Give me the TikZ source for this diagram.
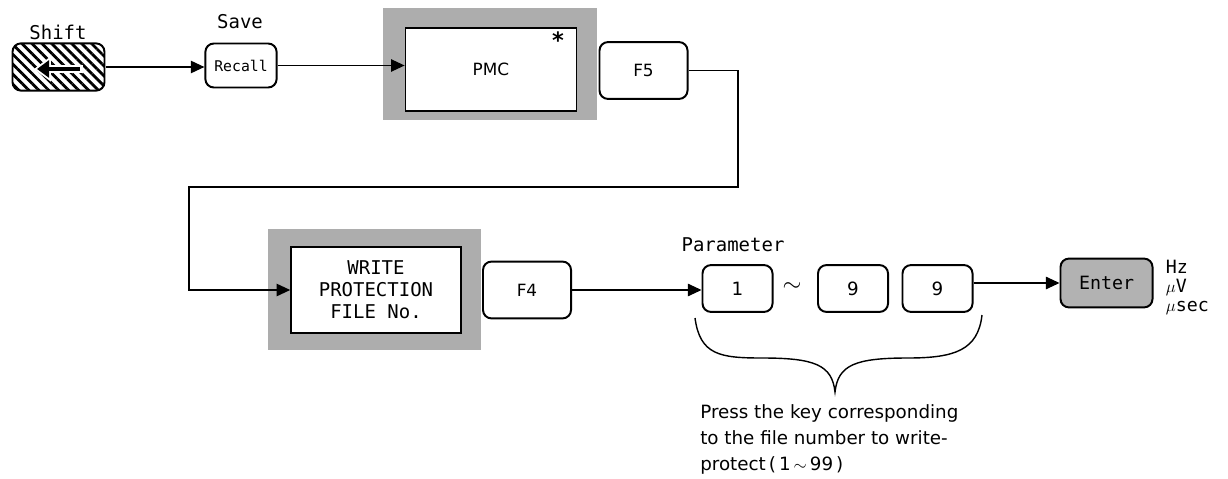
\documentclass[tikz,border=0pt]{standalone}
\usepackage{fontspec}
\setmainfont{DejaVu Sans}
\setmonofont{DejaVu Sans Mono}
\usetikzlibrary{arrows.meta,positioning,calc,patterns.meta}

\begin{document}
\begin{tikzpicture}[x=0.025cm, y=-0.025cm,
  key/.style={draw, line width=1.4pt, rounded corners=6pt, minimum width=2.2cm, minimum height=1.42cm,
              font=\fontsize{12}{14}\selectfont},
  digit/.style={key, minimum width=1.75cm, minimum height=1.17cm, font=\fontsize{13}{15}\selectfont},
  shade/.style={fill=black!32, minimum width=5.33cm},
  panel/.style={draw, fill=white, line width=1.1pt, minimum width=4.28cm, align=center},
  lbl/.style={font=\ttfamily\fontsize{13.5}{14}\selectfont},
  arr/.style={-{Triangle[length=3.4mm,width=3.1mm]}, line width=1pt}]
\useasboundingbox (0,0) rectangle (1228,479);

% top row
\node[key, minimum width=2.3cm, minimum height=1.18cm, pattern={Lines[angle=-45,distance=5pt,line width=2pt]}] (shift) at (58.5,67) {};
\draw[white, line width=6pt, {Triangle[length=4.2mm,width=6mm]}-] (34,69) -- (83,69);
\draw[line width=3pt, {Triangle[length=3mm,width=4.2mm]}-] (37,69) -- (80,69);
\node[lbl] (shiftlbl) at (58,32) {Shift};
\node[key, minimum width=1.78cm, minimum height=1.1cm, font=\ttfamily\fontsize{10.5}{12}\selectfont] (recall) at (241,65.5) {Recall};
\node[lbl] (savelbl) at (240,22) {Save};
\node[shade, minimum height=2.8cm] (pmcbg) at (490,64) {};
\node[panel, minimum height=2.07cm, font=\fontsize{12}{14}\selectfont] (pmc) at (491,69.5) {PMC};
\node[font=\bfseries\fontsize{16}{16}\selectfont] (star) at (558,40) {*};
\node[key] (f5) at (643.5,70.5) {F5};
\draw[arr] (shift.east) -- (shift.east -| recall.west);
\draw[arr] (recall.east) -- (recall.east -| pmc.west);

% bottom row
\node[shade, minimum height=3.02cm] (writebg) at (374.5,289.5) {};
\node[panel, minimum width=4.25cm, minimum height=2.15cm, lbl, font=\ttfamily\fontsize{13.5}{15.5}\selectfont] (write) at (376,290) {WRITE\\PROTECTION\\FILE No.};
\node[key] (f4) at (527,290) {F4};
\node[digit] (p1) at (737.5,288.5) {1};
\node[font=\fontsize{16}{16}\selectfont] (tilde) at (792,287) {$\sim$};
\node[digit] (p2) at (853,288.5) {9};
\node[digit] (p3) at (937.5,288.5) {9};
\node[lbl] (parlbl) at (733,245) {Parameter};
\node[key, minimum width=2.3cm, minimum height=1.22cm, fill=black!30, font=\ttfamily\fontsize{13}{14}\selectfont] (enter) at (1106.5,283) {Enter};
\node[lbl, anchor=west, align=left, font=\ttfamily\fontsize{13}{13.5}\selectfont] (units) at (1161,287) {Hz\\$\mu$V\\$\mu$sec};

\coordinate (c1) at (738,187);
\coordinate (c2) at (189,187);
\draw[arr] (f5.east) -| (c1) -- (c2) |- (write.west);
\draw[arr] (f4.east) -- (f4.east -| p1.west);
\draw[arr] (enter.west -| p3.east) -- (enter.west);

% brace and note
\coordinate (bl) at (695,318);
\coordinate (bt) at (835,392);
\coordinate (br) at (982,315);
\draw[line width=1pt] (bl) .. controls (700,355) and (720,358) .. (762,358)
  .. controls (815,358) and (832,365) .. (bt)
  .. controls (838,365) and (855,358) .. (908,358)
  .. controls (955,358) and (978,350) .. (br);
\node[anchor=north west, align=left, inner sep=0pt, font=\fontsize{13}{18.5}\selectfont] (note) at (700,404)
  {Press the key corresponding\\to the file number to write-\\protect\,(\,1\,$\sim$\,99\,)};
\end{tikzpicture}
\end{document}
